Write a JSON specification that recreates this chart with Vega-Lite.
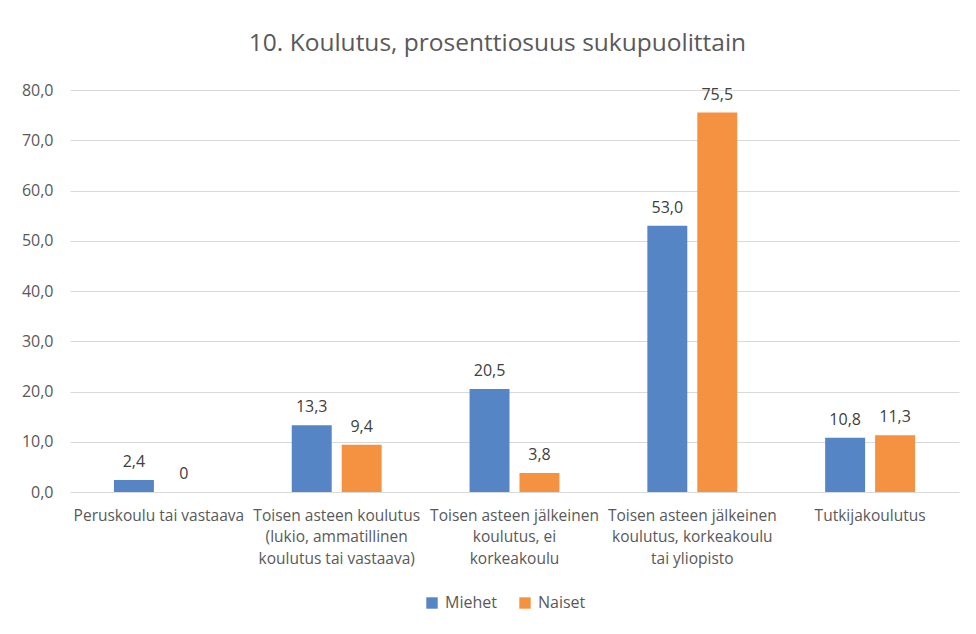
{
  "$schema": "https://vega.github.io/schema/vega-lite/v6.json",
  "width": 889,
  "height": 402,
  "autosize": {"type": "none"},
  "padding": {"left": 70, "top": 90, "right": 17, "bottom": 142},
  "background": "white",
  "title": {
    "text": "10. Koulutus, prosenttiosuus sukupuolittain",
    "font": "Open Sans",
    "fontSize": 24.5,
    "fontWeight": "normal",
    "color": "#595959",
    "anchor": "middle",
    "frame": "group",
    "dx": -17,
    "offset": 26
  },
  "config": {
    "view": {"stroke": null},
    "font": "Open Sans"
  },
  "data": {
    "values": [
      {"kategoria": "Peruskoulu tai vastaava", "sukupuoli": "Miehet", "arvo": 2.4, "teksti": "2,4"},
      {"kategoria": "Peruskoulu tai vastaava", "sukupuoli": "Naiset", "arvo": 0, "teksti": "0"},
      {"kategoria": "Toisen asteen koulutus|(lukio, ammatillinen|koulutus tai vastaava)", "sukupuoli": "Miehet", "arvo": 13.3, "teksti": "13,3"},
      {"kategoria": "Toisen asteen koulutus|(lukio, ammatillinen|koulutus tai vastaava)", "sukupuoli": "Naiset", "arvo": 9.4, "teksti": "9,4"},
      {"kategoria": "Toisen asteen jälkeinen|koulutus, ei|korkeakoulu", "sukupuoli": "Miehet", "arvo": 20.5, "teksti": "20,5"},
      {"kategoria": "Toisen asteen jälkeinen|koulutus, ei|korkeakoulu", "sukupuoli": "Naiset", "arvo": 3.8, "teksti": "3,8"},
      {"kategoria": "Toisen asteen jälkeinen|koulutus, korkeakoulu|tai yliopisto", "sukupuoli": "Miehet", "arvo": 53.0, "teksti": "53,0"},
      {"kategoria": "Toisen asteen jälkeinen|koulutus, korkeakoulu|tai yliopisto", "sukupuoli": "Naiset", "arvo": 75.5, "teksti": "75,5"},
      {"kategoria": "Tutkijakoulutus", "sukupuoli": "Miehet", "arvo": 10.8, "teksti": "10,8"},
      {"kategoria": "Tutkijakoulutus", "sukupuoli": "Naiset", "arvo": 11.3, "teksti": "11,3"}
    ]
  },
  "encoding": {
    "x": {
      "field": "kategoria",
      "type": "nominal",
      "sort": null,
      "scale": {"paddingInner": 0, "paddingOuter": 0},
      "axis": {
        "title": null,
        "labelAngle": 0,
        "labelExpr": "split(datum.label, '|')",
        "labelFont": "Open Sans",
        "labelFontSize": 15.5,
        "labelColor": "#595959",
        "labelLineHeight": 21.5,
        "labelPadding": 16,
        "ticks": false,
        "domain": false,
        "labelLimit": 220
      }
    },
    "xOffset": {
      "field": "sukupuoli",
      "type": "nominal",
      "scale": {"paddingInner": 0.2, "paddingOuter": 0.88}
    },
    "y": {
      "field": "arvo",
      "type": "quantitative",
      "scale": {"domain": [0, 80]},
      "axis": {
        "title": null,
        "values": [0, 10, 20, 30, 40, 50, 60, 70, 80],
        "labelExpr": "replace(format(datum.value, '.1f'), '.', ',')",
        "labelFont": "Open Sans",
        "labelFontSize": 16,
        "labelColor": "#595959",
        "labelPadding": 17,
        "ticks": false,
        "domain": false,
        "gridColor": "#d9d9d9",
        "gridWidth": 1
      }
    }
  },
  "layer": [
    {
      "mark": {"type": "bar"},
      "encoding": {
        "color": {
          "field": "sukupuoli",
          "type": "nominal",
          "scale": {"domain": ["Miehet", "Naiset"], "range": ["#5585C5", "#F59241"]},
          "legend": {
            "title": null,
            "orient": "none",
            "direction": "horizontal",
            "legendX": 354,
            "legendY": 505,
            "symbolType": "square",
            "symbolSize": 130,
            "symbolStrokeWidth": 0,
            "labelFont": "Open Sans",
            "labelFontSize": 16,
            "labelColor": "#595959",
            "columnPadding": 20,
            "labelOffset": 5
          }
        }
      }
    },
    {
      "mark": {"type": "text", "baseline": "bottom", "dy": -10, "font": "Open Sans", "fontSize": 16, "color": "#404040"},
      "encoding": {
        "text": {"field": "teksti", "type": "nominal"}
      }
    }
  ]
}
